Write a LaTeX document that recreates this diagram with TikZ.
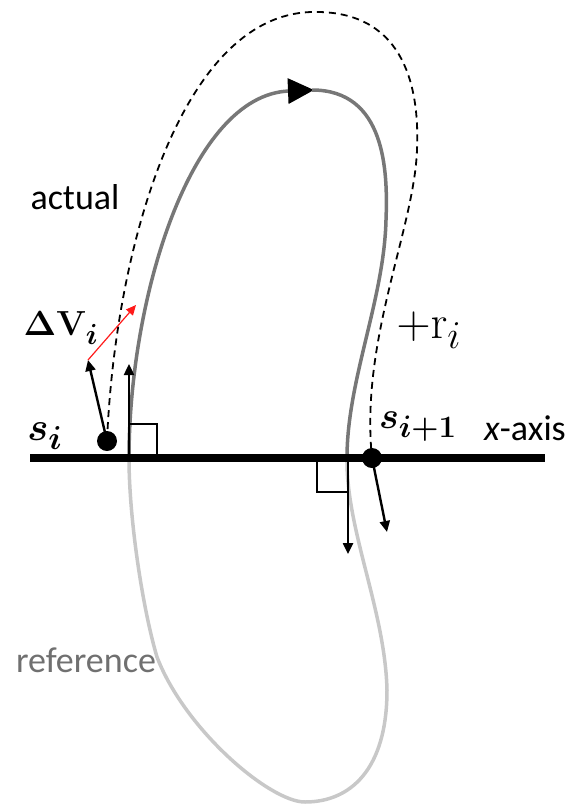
\documentclass[tikz,border=0pt]{standalone}
\usepackage{amsmath, bm}
\usepackage[no-math]{fontspec}
\setmainfont{Carlito}
\usepackage{xcolor}
\definecolor{cactual}{HTML}{777777}
\definecolor{creference}{HTML}{C8C8C8}
\definecolor{clabel}{HTML}{707070}
\definecolor{cdelta}{HTML}{FF1A1A}
\usepackage{tikz}
\usetikzlibrary{arrows.meta, positioning}

\begin{document}
\begin{tikzpicture}[x=1pt, y=-1pt,
  dot/.style={circle, fill=black, inner sep=0pt, minimum size=20pt},
  vec/.style={line width=2.4pt, -{Triangle[length=11pt, width=10pt]}},
  orbit/.style={line width=3.5pt},
  lbl/.style={font=\fontsize{36}{40}\selectfont, inner sep=0pt},
  mlbl/.style={font=\fontsize{24.88}{28}\selectfont, inner sep=0pt}]
  \useasboundingbox (0,0) rectangle (571,804);
  % Puntos
  \node[dot] (si) at (107,441) {};
  \node[dot] (sj) at (372,458) {};
  \coordinate (xa) at (30,458);
  \coordinate (xb) at (545,458);
  \coordinate (pi) at (129,458);
  \coordinate (pj) at (348,458);
  \coordinate (ni) at (129,364);
  \coordinate (nj) at (348,554);
  \coordinate (ti) at (88,360);
  \coordinate (tj) at (387,532);
  \coordinate (tdv) at (136,305);
  % Orbita de referencia
  \draw[orbit, creference] (347,458) .. controls (346,530) and (385,610) .. (387,690)
    .. controls (387,770) and (350,802) .. (305,802)
    .. controls (270,802) and (185,730) .. (157,657)
    .. controls (143,610) and (129,520) .. (129,458);
  % Orbita real
  \draw[orbit, cactual, -{Triangle[length=26pt, width=25pt, color=black]}]
    (129,458) .. controls (129,300) and (190,95) .. (314,90);
  \draw[orbit, cactual] (312,90) .. controls (385,90) and (388,170) .. (386,220)
    .. controls (384,300) and (347,380) .. (347,458);
  % Trayectoria
  \draw[line width=1.8pt, dash pattern=on 7pt off 5pt] (si.center)
    .. controls (115,250) and (180,15) .. (312,12)
    .. controls (400,10) and (420,80) .. (417,150)
    .. controls (414,230) and (360,340) .. (sj.center);
  % Eje
  \draw[line width=7.5pt] (xa) -- (xb);
  \draw[line width=1.4pt] (129,424) rectangle (157,458);
  \draw[line width=1.4pt] (317,458) rectangle (348,492);
  % Vectores
  \draw[vec] (pi) -- (ni);
  \draw[vec] (pj) -- (nj);
  \draw[vec] (si.center) -- (ti);
  \draw[vec] (sj.center) -- (tj);
  \draw[cdelta, line width=1.2pt, -{Triangle[length=10pt, width=9pt]}] (ti) -- (tdv);
  % Labels
  \node[lbl] (lactual) at (75,197) {actual};
  \node[lbl, clabel] (lref) at (86,660) {reference};
  \node[lbl] (laxis) at (525,428) {\textit{x}-axis};
  \node[mlbl, scale=1.6] (lsi) at (45,436) {$\bm{s_i}$};
  \node[mlbl, scale=1.5] (lsj) at (418,427) {$\bm{s_{i+1}}$};
  \node[mlbl, scale=1.4] (ldv) at (61,328) {$\bm{\Delta}\mathbf{V}_{\bm{i}}$};
  \node[mlbl, scale=1.9] (lr) at (429,330) {$+\mathrm{r}_i$};
\end{tikzpicture}
\end{document}
